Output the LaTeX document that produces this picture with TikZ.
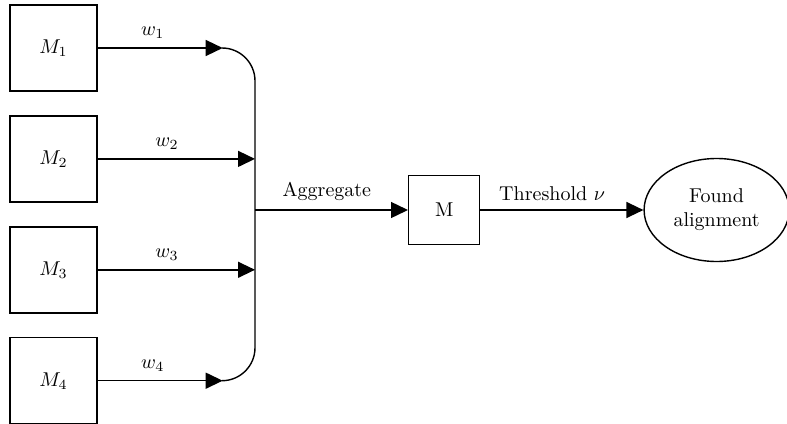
\documentclass[tikz,border=0pt]{standalone}
\usetikzlibrary{shapes.geometric, arrows.meta, positioning}
\tikzstyle{model} = [
draw=black,
rectangle,
line width=0.7pt,
minimum width=43.5pt,
minimum height=43pt,
inner sep=0pt]
\tikzstyle{merged} = [
draw=black,
rectangle,
line width=0.7pt,
minimum width=35.5pt,
minimum height=34.5pt]
\tikzstyle{result} = [
draw=black,
ellipse,
line width=0.7pt,
minimum width=72.5pt,
minimum height=51.5pt,
inner sep=0pt,
align=center]
\tikzstyle{arrow} = [
draw=black,
line width=0.7pt,
-{Triangle[length=8.5pt, width=8pt]}]
\tikzstyle{weight} = [
above,
pos=0.44,
inner sep=4.5pt]

\begin{document}
\begin{tikzpicture}[x=0.5pt, y=-0.5pt, node distance=11.75pt,
  font=\fontsize{10}{12}\selectfont]
\useasboundingbox (0,0) rectangle (787,423);

\node[model] (m1) at (53.5,48) {$M_1$};
\node[model, below =of m1] (m2) {$M_2$};
\node[model, below =of m2] (m3) {$M_3$};
\node[model, below =of m3] (m4) {$M_4$};
\coordinate (bus) at (255,210);
\node[merged, right =76.5pt of bus] (merge) {M};
\node[result, right =81.5pt of merge] (found) {Found\\alignment};

\coordinate (in1) at ([xshift=62.5pt]m1.east);
\coordinate (in2) at (m2.east -| bus);
\coordinate (in3) at (m3.east -| bus);
\coordinate (in4) at ([xshift=62.5pt]m4.east);

\draw[arrow] (m1) -- node[weight] {$w_1$} (in1);
\draw[arrow] (m2) -- node[weight] {$w_2$} (in2);
\draw[arrow] (m3) -- node[weight] {$w_3$} (in3);
\draw[arrow] (m4) -- node[weight] {$w_4$} (in4);

% collecting line
\draw[line width=0.7pt, rounded corners=16.5pt] (in1) -| (in4 -| bus) -- (in4);

\draw[arrow] (bus) -- node[weight, pos=0.47] {Aggregate} (merge);
\draw[arrow] (merge) -- node[weight] {Threshold $\nu$} (found);

\end{tikzpicture}
\end{document}
